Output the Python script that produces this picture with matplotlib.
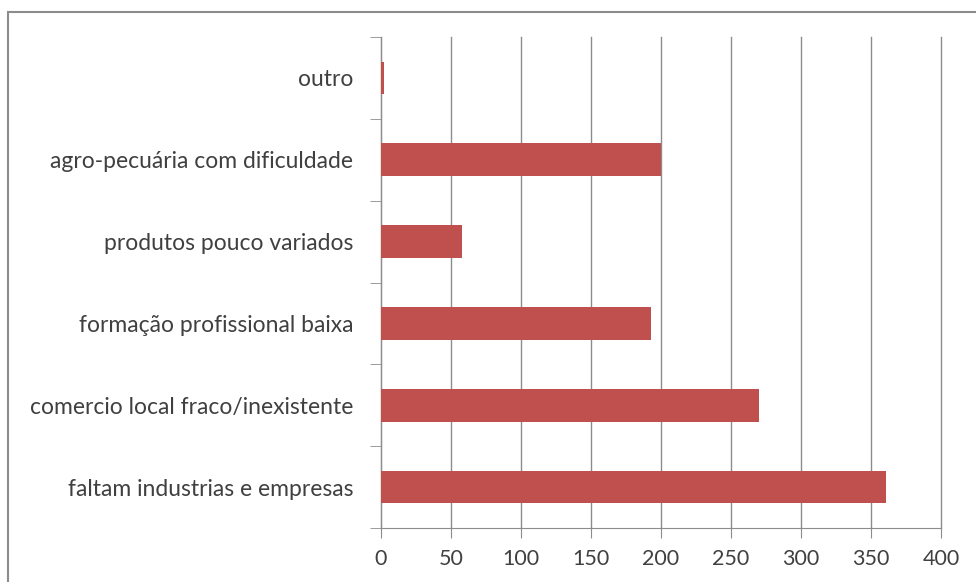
import numpy as np
import matplotlib.pyplot as plt
from matplotlib.patches import Rectangle

# categories from bottom to top
categories = ['faltam industrias e empresas',
              'comercio local fraco/inexistente',
              'formação profissional baixa',
              'produtos pouco variados',
              'agro-pecuária com dificuldade',
              'outro']
values = [361, 270, 193, 58, 200, 2]
xticks = [0, 50, 100, 150, 200, 250, 300, 350, 400]

plt.rcParams['font.family'] = ['Lato', 'DejaVu Sans']

fig = plt.figure(figsize=(9.76, 5.82), dpi=100)
ax = fig.add_axes([0.3904, 0.0928, 0.5737, 0.8436])

# outer chart border (Excel-like frame)
fig.patches.append(Rectangle((8 / 976, -0.1), 1.2, 1 - 12 / 582 + 0.1,
                             transform=fig.transFigure, fill=False,
                             edgecolor='#8c8c8c', linewidth=1.5))

y = np.arange(len(categories))
ax.barh(y, values, height=0.4, color='#c0504d', zorder=3)

ax.set_xlim(0, 400)
ax.set_ylim(-0.5, len(categories) - 0.5)
ax.set_xticks(xticks)
ax.set_xticklabels([str(v) for v in xticks])
ax.set_yticks(y)
ax.set_yticklabels(categories)
ax.set_yticks(np.arange(-0.5, len(categories)), minor=True)

ax.grid(axis='x', color='#8c8c8c', linewidth=1, zorder=0)
for gl in ax.get_xgridlines():
    gl.set_clip_on(False)
for s in ['top', 'right']:
    ax.spines[s].set_visible(False)
ax.spines['left'].set_color('#8c8c8c')
ax.spines['bottom'].set_color('#8c8c8c')

ax.tick_params(axis='y', which='major', length=0, pad=20, labelsize=16.5,
               labelcolor='#404040')
ax.tick_params(axis='y', which='minor', length=8, color='#8c8c8c')
ax.tick_params(axis='x', length=7, color='#8c8c8c', labelsize=15.5,
               labelcolor='#404040', pad=8)

fig.savefig('out.png', dpi=100)
